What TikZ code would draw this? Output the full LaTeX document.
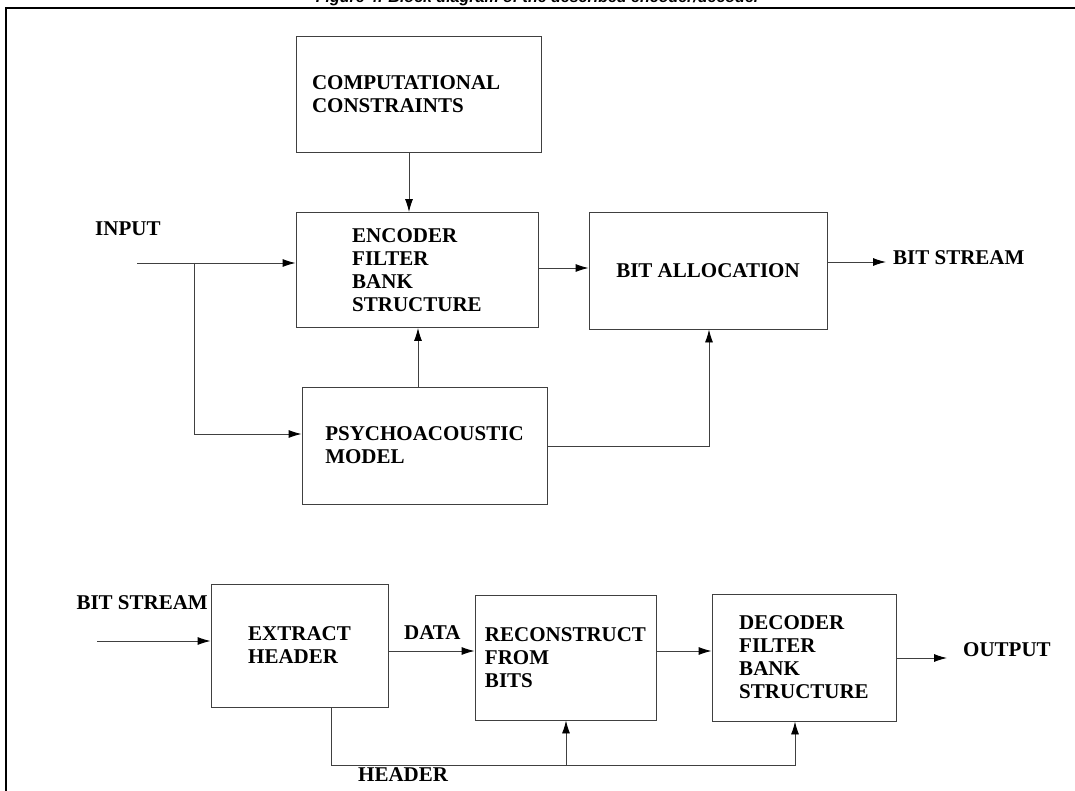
\documentclass[tikz,border=0pt]{standalone}
\usepackage{fontspec}
\setmainfont{Liberation Serif}
\newfontfamily\titlefont{Liberation Sans}
\usetikzlibrary{arrows.meta}

\tikzset{
  lbl/.style={font=\fontsize{21}{23}\selectfont\bfseries, inner sep=0pt},
  box/.style={draw=black!75, line width=0.9pt, align=left, inner sep=0pt,
              font=\fontsize{21}{23}\selectfont\bfseries},
  conn/.style={draw=black!75, line width=0.9pt},
  arr/.style={conn, -{Latex[length=13pt,width=8pt,color=black]}},
  frame/.style={line width=2.8pt, black}
}

\begin{document}
\begin{tikzpicture}[x=1pt,y=-1pt]
\useasboundingbox (0,0) rectangle (1075,791);
\clip (0,0) rectangle (1075,791);

% caption above the figure frame
\node[font=\titlefont\fontsize{16}{18}\selectfont\bfseries\itshape, anchor=base, inner sep=0pt]
  (title) at (538,2.5) {Figure 4. Block diagram of the described encoder/decoder};

% figure frame (top and left rules)
\draw[frame] (1080,8) -- (6,8) -- (6,800);

% ---------------- encoder ----------------
\node[box, minimum width=245pt, minimum height=116pt, text width=213pt, inner xsep=16pt]
  (comp) at (418.5,94) {COMPUTATIONAL\\CONSTRAINTS};
\node[box, minimum width=242pt, minimum height=115pt] (enc) at (417,270)
  {ENCODER\\FILTER\\BANK\\STRUCTURE};
\node[box, minimum width=238pt, minimum height=117pt] (alloc) at (708,270.5)
  {BIT ALLOCATION};
\node[box, minimum width=245pt, minimum height=117pt] (psy) at (424.5,445.5)
  {PSYCHOACOUSTIC\\MODEL};

\node[lbl, anchor=west] (input) at (95,229) {INPUT};
\node[lbl, anchor=west] (bsout) at (893,258) {BIT STREAM};

\coordinate (inS) at (137,263);
\coordinate (split) at (194,263);
\coordinate (psyIn) at (194,434);
\coordinate (compX) at (409,0);
\coordinate (encX) at (418,0);
\coordinate (encAllocY) at (0,268);
\coordinate (allocOutY) at (0,262);
\coordinate (bsEnd) at (886,262);
\coordinate (psyOutY) at (0,446);
\coordinate (allocX) at (709,0);

\draw[arr] (inS) -- (inS -| enc.west);
\draw[arr] (split) -- (psyIn) -- (psyIn -| psy.west);
\draw[arr] (comp.south -| compX) -- (enc.north -| compX);
\draw[arr] (enc.east |- encAllocY) -- (alloc.west |- encAllocY);
\draw[arr] (alloc.east |- allocOutY) -- (bsEnd);
\draw[arr] (psy.north -| encX) -- (enc.south -| encX);
\draw[arr] (psy.east |- psyOutY) -- (allocX |- psyOutY) -- (alloc.south -| allocX);

% ---------------- decoder ----------------
\node[box, minimum width=177pt, minimum height=123pt] (ext) at (299.5,645.5)
  {EXTRACT\\HEADER};
\node[box, minimum width=181pt, minimum height=125pt] (rec) at (565.5,657.5)
  {RECONSTRUCT\\FROM\\BITS};
\node[box, minimum width=184pt, minimum height=127pt] (dec) at (804,657.5)
  {DECODER\\FILTER\\BANK\\STRUCTURE};

\node[lbl, anchor=east] (bsin) at (208,603) {BIT STREAM};
\node[lbl, anchor=west] (data) at (404,633) {DATA};
\node[lbl, anchor=west] (output) at (963,650) {OUTPUT};
\node[lbl, anchor=west] (header) at (358,775) {HEADER};

\coordinate (bsS) at (97,641);
\coordinate (dataY) at (0,651);
\coordinate (outY) at (0,658);
\coordinate (outEnd) at (947,658);
\coordinate (hdrX) at (331,0);
\coordinate (hdrY) at (0,765);
\coordinate (recX) at (566,0);
\coordinate (decX) at (795,0);

\draw[arr] (bsS) -- (bsS -| ext.west);
\draw[arr] (ext.east |- dataY) -- (rec.west |- dataY);
\draw[arr] (rec.east |- dataY) -- (dec.west |- dataY);
\draw[arr] (dec.east |- outY) -- (outEnd);
\draw[arr] (ext.south -| hdrX) -- (hdrX |- hdrY) -- (decX |- hdrY) -- (dec.south -| decX);
\draw[arr] (recX |- hdrY) -- (rec.south -| recX);
\end{tikzpicture}
\end{document}
